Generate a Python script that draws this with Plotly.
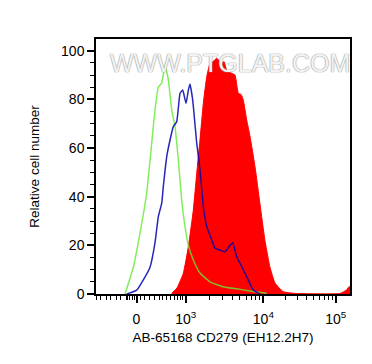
import plotly.graph_objects as go

# x values are in display units of the (biexponential-like) fluorescence axis
green_x = [2.218, 2.325, 2.411, 2.497, 2.562, 2.604, 2.647, 2.691, 2.733, 2.776, 2.820, 2.862,
           2.905, 2.948, 2.991, 3.034, 3.098, 3.184, 3.313, 3.481, 3.700, 3.867, 4.044]
green_y = [0, 11, 25, 41.5, 62, 75.6, 85, 86.7, 94, 88, 75.6, 68.8,
           55, 38.6, 27.7, 20, 14, 8.6, 5, 3, 1.9, 1, 0.3]

blue_x = [2.240, 2.369, 2.454, 2.540, 2.604, 2.647, 2.691, 2.711, 2.755, 2.798, 2.840, 2.884,
          2.927, 2.961, 3.004, 3.034, 3.055, 3.090, 3.142, 3.184, 3.227, 3.271, 3.335, 3.378,
          3.442, 3.506, 3.571, 3.606, 3.657, 3.722, 3.786, 3.871, 3.957]
blue_y = [0, 1.6, 5.8, 11, 21, 31.8, 37.3, 44, 56.4, 63.3, 68.8, 70.8,
          82.5, 83.8, 78.4, 83.8, 86.3, 79.7, 62, 51, 35.9, 27.7, 22.2, 18.8,
          18, 17.4, 20, 21.1, 15.3, 11.2, 7.1, 1.6, 0]

red_x = [2.820, 2.888, 2.969, 3.034, 3.098, 3.142, 3.184, 3.227, 3.271, 3.313, 3.352, 3.399,
         3.429, 3.464, 3.494, 3.528, 3.593, 3.635, 3.678, 3.713, 3.742, 3.786, 3.829, 3.893,
         3.957, 4.021, 4.086, 4.151, 4.254, 4.383, 4.602, 4.989, 5.066, 5.104, 5.130]
red_y = [0.3, 2.5, 8.5, 19.4, 34.5, 49.6, 63.3, 78.4, 89.3, 94.8, 95.5, 96.9,
         96, 94.8, 95.5, 92, 90.7, 90, 82.5, 82, 79.7, 71.5, 64.7, 52.3,
         37, 22, 11, 4.5, 1, 0.3, 0.1, 0.2, 1.5, 3, 3]

x_tick_vals = [2.366, 3.0, 4.0, 4.933]
x_tick_text = ["0", "10<sup>3</sup>", "10<sup>4</sup>", "10<sup>5</sup>"]
x_minor_vals = [1.844, 1.908, 1.973, 2.037, 2.102, 2.166, 2.231, 2.256, 2.282, 2.308, 2.334,
                2.385, 2.411, 2.463, 2.527, 2.592, 2.656, 2.707, 2.751, 2.81, 2.856, 2.894,
                2.927, 2.959,
                3.301, 3.477, 3.602, 3.699, 3.778, 3.845, 3.903, 3.954,
                4.281, 4.445, 4.562, 4.652, 4.726, 4.789, 4.842, 4.890]
y_tick_vals = [0, 20, 40, 60, 80, 100]
y_minor_vals = [5, 10, 15, 25, 30, 35, 45, 50, 55, 65, 70, 75, 85, 90, 95]

font = "Liberation Sans, Arial, sans-serif"

fig = go.Figure()
fig.add_trace(go.Scatter(x=red_x, y=red_y, mode="lines", fill="tozeroy",
                         fillcolor="#FF0000", line=dict(color="#FF0000", width=1, shape="spline", smoothing=0.4),
                         hoverinfo="skip"))
fig.add_trace(go.Scatter(x=green_x, y=green_y, mode="lines",
                         line=dict(color="rgba(100,232,50,0.8)", width=1.5, shape="spline", smoothing=0.4),
                         hoverinfo="skip"))
fig.add_trace(go.Scatter(x=blue_x, y=blue_y, mode="lines",
                         line=dict(color="rgba(0,0,175,0.85)", width=1.5, shape="spline", smoothing=0.4),
                         hoverinfo="skip"))

fig.add_annotation(text="WWW.PTGLAB.COM", x=0.527, y=0.906, xref="paper", yref="paper",
                   showarrow=False, xanchor="center", yanchor="middle",
                   font=dict(family=font, size=25, color="rgba(255,255,255,0.9)",
                             shadow="0 0 1px #999, 0 0 1px #999, 0 0 1px #aaa"))

# the page adds an 8px body margin, so the figure is shifted by 8px right/down
fig.update_layout(
    width=364, height=356,
    margin=dict(l=88, r=22, t=31, b=70),
    plot_bgcolor="white", paper_bgcolor="white",
    showlegend=False,
    font=dict(family=font, size=14, color="black"),
)
fig.update_xaxes(
    range=[1.844, 5.117], showgrid=False, zeroline=False,
    showline=True, linecolor="black", linewidth=1.5, mirror=True,
    ticks="outside", ticklen=7, tickwidth=2, tickcolor="black",
    tickmode="array", tickvals=x_tick_vals, ticktext=x_tick_text,
    tickfont=dict(size=14), ticklabelstandoff=4,
    minor=dict(tickmode="array", tickvals=x_minor_vals, ticks="outside", ticklen=4,
               tickwidth=1, tickcolor="black", showgrid=False),
    title=dict(text="AB-65168 CD279 (EH12.2H7)", font=dict(size=13.5), standoff=7),
)
fig.update_yaxes(
    range=[0, 104.8], showgrid=False, zeroline=False,
    showline=True, linecolor="black", linewidth=1.5, mirror=True,
    ticks="outside", ticklen=7, tickwidth=2, tickcolor="black",
    tickmode="array", tickvals=y_tick_vals,
    tickfont=dict(size=14),
    minor=dict(tickmode="array", tickvals=y_minor_vals, ticks="outside", ticklen=4,
               tickwidth=1, tickcolor="black", showgrid=False),
    title=dict(text="Relative cell number", font=dict(size=13.5), standoff=18),
)

fig.write_html("out.html")
